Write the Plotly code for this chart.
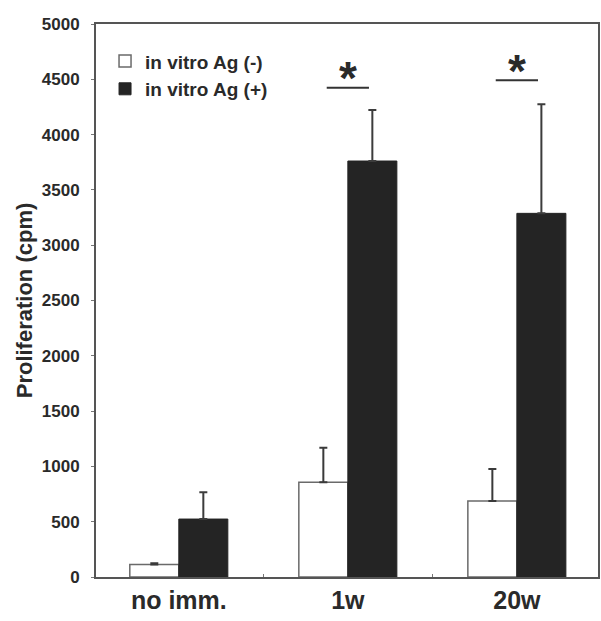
import plotly.graph_objects as go

categories = ["no imm.", "1w", "20w"]
ag_neg = [114, 856, 687]
ag_neg_err = [10, 313, 289]
ag_pos = [524, 3761, 3288]
ag_pos_err = [242, 461, 986]
sig_groups = ["1w", "20w"]
sig_line_y = [4424, 4491]
sig_star_y = [4510, 4575]
y_ticks = [0, 500, 1000, 1500, 2000, 2500, 3000, 3500, 4000, 4500, 5000]

FONT = "Liberation Sans"
INK = "#2a2a2a"

fig = go.Figure()
fig.add_trace(go.Bar(
    x=categories, y=ag_neg, name="in vitro Ag (-)",
    marker=dict(color="white", line=dict(color="#6a6a6a", width=1.5)),
    error_y=dict(type="data", symmetric=False, array=ag_neg_err,
                 arrayminus=[0] * len(ag_neg_err), color="#3a3a3a", thickness=2, width=4),
))
fig.add_trace(go.Bar(
    x=categories, y=ag_pos, name="in vitro Ag (+)",
    marker=dict(color="#242424", line=dict(color="#242424", width=1)),
    error_y=dict(type="data", symmetric=False, array=ag_pos_err,
                 arrayminus=[0] * len(ag_pos_err), color="#3c3c3c", thickness=2, width=4),
))

for g, ly, sy in zip(sig_groups, sig_line_y, sig_star_y):
    idx = categories.index(g)
    fig.add_shape(type="line", xref="x", yref="y", x0=idx - 0.125, x1=idx + 0.125,
                  y0=ly, y1=ly, line=dict(color="#333", width=2))
    fig.add_annotation(x=idx, y=sy, xref="x", yref="y", text="*", showarrow=False,
                       font=dict(family=FONT, size=46, color=INK, weight="bold"),
                       yanchor="middle")

fig.update_layout(
    width=601, height=621,
    margin=dict(l=96, r=1, t=24, b=44),
    paper_bgcolor="white", plot_bgcolor="white",
    barmode="group", bargap=0.42, bargroupgap=0,
    font=dict(family=FONT, color=INK),
    showlegend=True,
    legend=dict(x=0.018, y=0.967, xanchor="left", yanchor="top",
                bgcolor="rgba(0,0,0,0)", borderwidth=0,
                font=dict(family=FONT, size=19, color=INK, weight="bold"),
                tracegroupgap=0, itemwidth=30),
)
fig.update_xaxes(
    type="category", range=[-0.49, 2.48],
    showline=True, linecolor="#555", linewidth=2, mirror=True,
    ticks="inside", ticklen=3, tickcolor="#777", tickson="boundaries",
    tickfont=dict(family=FONT, size=25, color=INK, weight="bold"),
    showgrid=False, zeroline=False,
)
fig.update_yaxes(
    range=[0, 5000], tickvals=y_ticks,
    showline=True, linecolor="#555", linewidth=2, mirror=True,
    ticks="outside", ticklen=3, tickcolor="#777", ticklabelstandoff=8,
    tickfont=dict(family=FONT, size=17, color=INK, weight="bold"),
    title=dict(text="Proliferation (cpm)", standoff=3,
               font=dict(family=FONT, size=22, color=INK, weight="bold")),
    showgrid=False, zeroline=False,
)

fig.write_html("out.html")
